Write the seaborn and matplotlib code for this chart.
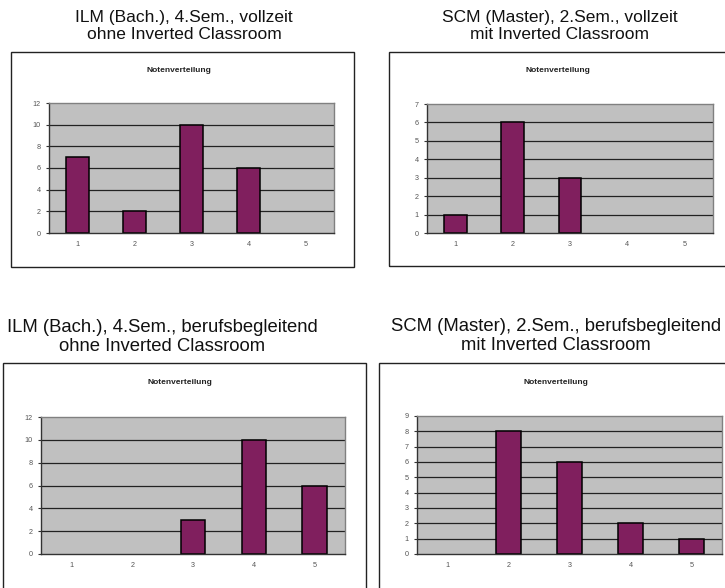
import matplotlib
matplotlib.use("Agg")
import matplotlib.pyplot as plt
from matplotlib.patches import Rectangle
import seaborn as sns
import pandas as pd

sns.set_theme(style="white")
plt.rcParams["font.family"] = ["Liberation Sans", "DejaVu Sans"]

# Grade distributions (number of students per grade 1..5)
grades = ["1", "2", "3", "4", "5"]
ilm_vollzeit = [7, 2, 10, 6, 0]
scm_vollzeit = [1, 6, 3, 0, 0]
ilm_berufsbegleitend = [0, 0, 3, 10, 6]
scm_berufsbegleitend = [0, 8, 6, 2, 1]

titles = [
    "ILM (Bach.), 4.Sem., vollzeit\nohne Inverted Classroom",
    "SCM (Master), 2.Sem., vollzeit\nmit Inverted Classroom",
    "ILM (Bach.), 4.Sem., berufsbegleitend\nohne Inverted Classroom",
    "SCM (Master), 2.Sem., berufsbegleitend\nmit Inverted Classroom",
]
chart_title = "Notenverteilung"
y_max = [12, 7, 12, 9]
y_step = [2, 1, 2, 1]
series = [ilm_vollzeit, scm_vollzeit, ilm_berufsbegleitend, scm_berufsbegleitend]

W, H = 725, 588
fig = plt.figure(figsize=(W / 100, H / 100), dpi=100)
fig.patch.set_facecolor("white")

# Layout in pixels: frame box, plot area, title centre, chart-title centre
frames = [(11, 52, 354, 267), (389, 52, 740, 266), (3, 363, 366, 600), (379, 363, 740, 600)]
plots = [(49, 103, 334, 233), (427, 104, 713, 233), (41, 417, 345, 554), (417, 416, 722, 554)]
title_pos = [(184, 26), (560, 26), (162, 337), (556, 336)]
title_size = [12.5, 12.5, 13.3, 13.3]
sub_pos = [(179, 71), (558, 71), (180, 382), (556, 382)]


def fx(px):
    return px / W


def fy(py):
    return 1 - py / H


bar_color = "#801F5E"

for i in range(4):
    x0, y0, x1, y1 = frames[i]
    fig.patches.append(Rectangle((fx(x0), fy(y1)), fx(x1 - x0), (y1 - y0) / H,
                                 transform=fig.transFigure, fill=False,
                                 edgecolor="#222222", linewidth=1.0))
    fig.text(fx(title_pos[i][0]), fy(title_pos[i][1]), titles[i], ha="center",
             va="center", fontsize=title_size[i], color="#111111",
             linespacing=1.2)
    fig.text(fx(sub_pos[i][0]), fy(sub_pos[i][1]), chart_title, ha="center",
             va="center", fontsize=6.0, fontweight="bold", color="#222222")

    px0, py0, px1, py1 = plots[i]
    ax = fig.add_axes([fx(px0), fy(py1), fx(px1 - px0), (py1 - py0) / H])
    df = pd.DataFrame({"Note": grades, "Anzahl": series[i]})
    sns.barplot(data=df, x="Note", y="Anzahl", ax=ax, color=bar_color,
                edgecolor="black", linewidth=1.1, width=0.4, saturation=1)
    # empty grades get no visible outline
    for patch in ax.patches:
        if patch.get_height() == 0:
            patch.set_linewidth(0)
    ax.set_facecolor("#C0C0C0")
    ax.set_xlim(-0.5, 4.5)
    ax.set_ylim(0, y_max[i])
    yt = list(range(0, y_max[i] + 1, y_step[i]))
    ax.set_yticks(yt)
    ax.set_yticklabels([str(v) for v in yt])
    for v in yt[1:-1]:
        ax.axhline(v, color="#222222", linewidth=0.9, zorder=0.5)
    ax.set_axisbelow(True)
    ax.set_xlabel("")
    ax.set_ylabel("")
    ax.set_xticks([-0.5, 0.5, 1.5, 2.5, 3.5, 4.5], minor=True)
    ax.tick_params(axis="x", which="major", length=0, labelsize=5.2,
                   labelcolor="#555555", pad=6)
    ax.tick_params(axis="x", which="minor", length=2, width=0.8,
                   color="#333333", direction="out")
    ax.tick_params(axis="y", length=2, width=0.8, color="#333333",
                   labelsize=5.2, labelcolor="#555555", pad=4, left=True)
    for side in ["left", "bottom"]:
        ax.spines[side].set_color("#333333")
        ax.spines[side].set_linewidth(1.0)
    for side in ["right", "top"]:
        ax.spines[side].set_color("#808080")
        ax.spines[side].set_linewidth(1.0)
        ax.spines[side].set_visible(True)

fig.savefig("out.png", dpi=100, facecolor="white")
